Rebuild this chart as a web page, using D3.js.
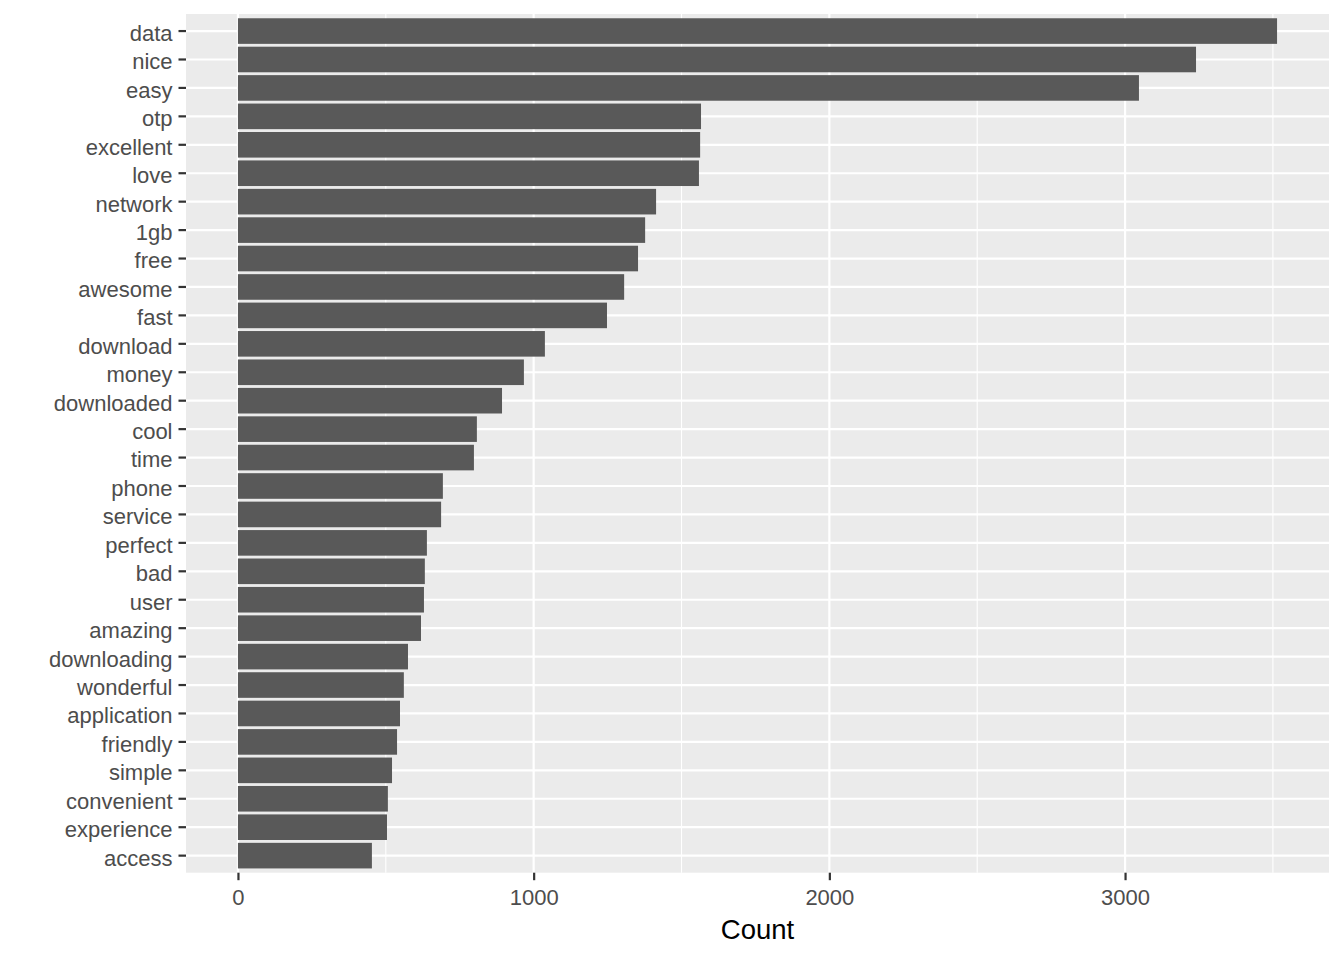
<!DOCTYPE html>
<html>
<head>
<meta charset="utf-8">
<script src="https://cdn.jsdelivr.net/npm/d3@7"></script>
<style>
  body { margin: 0; background: #fff; }
  text { font-family: "Liberation Sans", Arial, sans-serif; }
</style>
</head>
<body>
<div id="chart-area"></div>
<script>
// words, top to bottom
const words = ["data", "nice", "easy", "otp", "excellent", "love", "network", "1gb", "free",
  "awesome", "fast", "download", "money", "downloaded", "cool", "time", "phone", "service",
  "perfect", "bad", "user", "amazing", "downloading", "wonderful", "application", "friendly",
  "simple", "convenient", "experience", "access"];
// counts
const counts = [3514, 3240, 3047, 1566, 1563, 1559, 1414, 1377, 1353,
  1306, 1248, 1038, 967, 893, 808, 798, 693, 687,
  639, 632, 629, 619, 575, 561, 548, 538,
  521, 507, 504, 453];
const xTicks = [0, 1000, 2000, 3000];
const xMinor = [500, 1500, 2500, 3500];

// panel margins
const margin = { left: 186, right: 15, top: 14, bottom: 87.3 };
const W = 1344, H = 960;
const width = W - margin.left - margin.right;
const height = H - margin.top - margin.bottom;

const svg = d3.select("#chart-area").append("svg")
  .attr("width", W)
  .attr("height", H);

const g = svg.append("g")
  .attr("transform", "translate(" + margin.left + "," + margin.top + ")");

const maxVal = d3.max(counts);
// ggplot style 5% expansion
const x = d3.scaleLinear()
  .domain([-0.05 * maxVal, 1.05 * maxVal])
  .range([0, width]);

const y = d3.scaleBand()
  .domain(words)
  .range([0, height])
  .paddingInner(0.1)
  .paddingOuter(0.15);

// panel background
g.append("rect")
  .attr("width", width)
  .attr("height", height)
  .attr("fill", "#EBEBEB");

// minor grid
g.selectAll(".minor").data(xMinor).enter().append("line")
  .attr("x1", d => x(d)).attr("x2", d => x(d))
  .attr("y1", 0).attr("y2", height)
  .attr("stroke", "#fff").attr("stroke-width", 1.1);

// major grid
g.selectAll(".major-x").data(xTicks).enter().append("line")
  .attr("x1", d => x(d)).attr("x2", d => x(d))
  .attr("y1", 0).attr("y2", height)
  .attr("stroke", "#fff").attr("stroke-width", 2.2);

g.selectAll(".major-y").data(words).enter().append("line")
  .attr("x1", 0).attr("x2", width)
  .attr("y1", d => y(d) + y.bandwidth() / 2)
  .attr("y2", d => y(d) + y.bandwidth() / 2)
  .attr("stroke", "#fff").attr("stroke-width", 2.2);

// bars
g.selectAll(".bar").data(words).enter().append("rect")
  .attr("x", x(0))
  .attr("y", d => y(d))
  .attr("width", (d, i) => x(counts[i]) - x(0))
  .attr("height", y.bandwidth())
  .attr("fill", "#595959");

// y axis
const yAxis = g.append("g")
  .call(d3.axisLeft(y).tickSize(7.5).tickPadding(6));
yAxis.select(".domain").remove();
yAxis.selectAll("line").attr("stroke", "#333333").attr("stroke-width", 2.2);
yAxis.selectAll("text")
  .attr("fill", "#4D4D4D")
  .attr("font-size", "22px")
  .attr("dy", "0.45em")
  .attr("font-family", "'Liberation Sans', Arial, sans-serif");

// x axis
const xAxis = g.append("g")
  .attr("transform", "translate(0," + height + ")")
  .call(d3.axisBottom(x).tickValues(xTicks).tickFormat(d3.format("d")).tickSize(7.5).tickPadding(9));
xAxis.select(".domain").remove();
xAxis.selectAll("line").attr("stroke", "#333333").attr("stroke-width", 2.2);
xAxis.selectAll("text")
  .attr("fill", "#4D4D4D")
  .attr("font-size", "22px")
  .attr("font-family", "'Liberation Sans', Arial, sans-serif");

// x title
g.append("text")
  .attr("x", width / 2)
  .attr("y", height + 66)
  .attr("text-anchor", "middle")
  .attr("font-size", "27.5px")
  .attr("fill", "#000")
  .text("Count");
</script>
</body>
</html>
